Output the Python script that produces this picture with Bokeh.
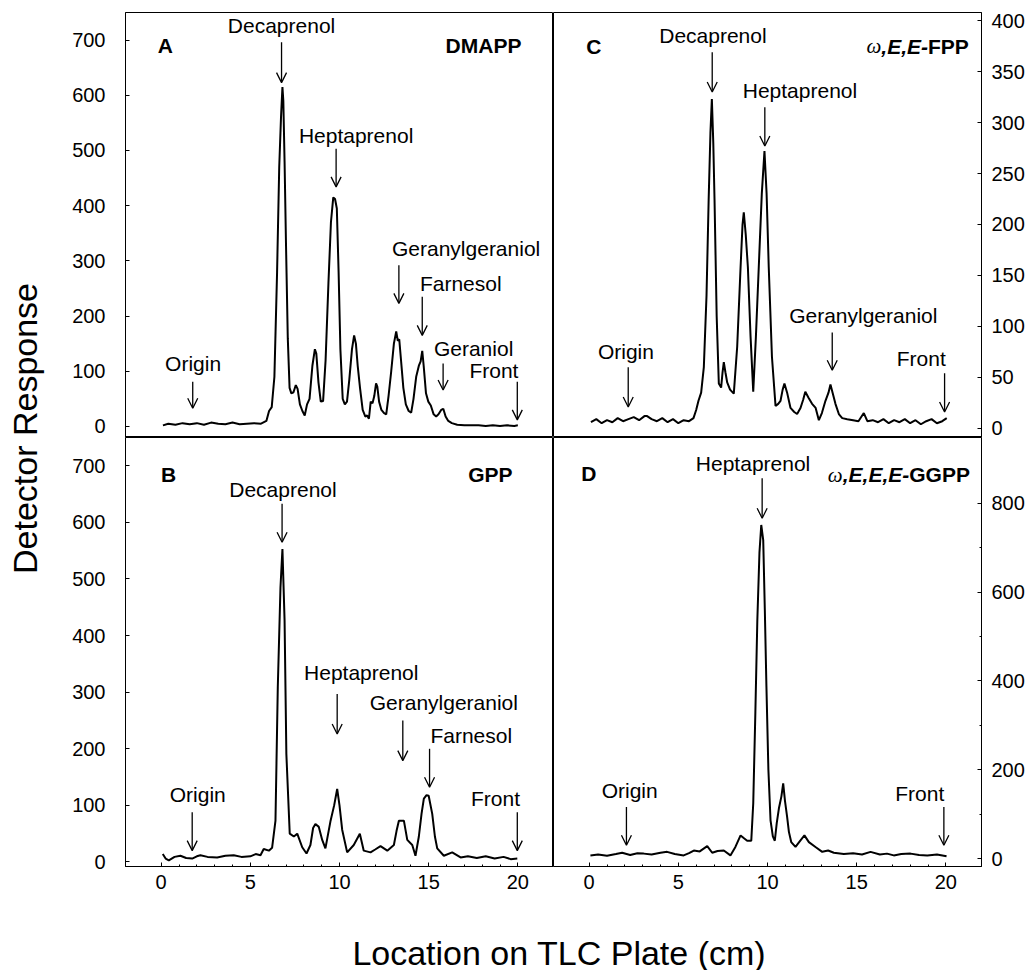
import math
from bokeh.plotting import figure
from bokeh.models import Range1d, LinearAxis, FixedTicker, Label, Arrow, OpenHead
from bokeh.layouts import row, column
from bokeh.embed import file_html
from bokeh.resources import INLINE

SANS = "Liberation Sans"
SERIF = "Liberation Serif"

# ---------------- data ----------------
x_ticks = [0, 5, 10, 15, 20]
x_minor = [i for i in range(0, 21) if i % 5]
AB_ticks = [0, 100, 200, 300, 400, 500, 600, 700]
C_ticks = [0, 50, 100, 150, 200, 250, 300, 350, 400]
D_ticks = [0, 200, 400, 600, 800]
D_minor = [100, 300, 500, 700]

# Panel A (DMAPP)
A_x = [0.1, 0.4, 0.8, 1.2, 1.6, 2.0, 2.4, 2.8, 3.2, 3.6, 4.0, 4.4, 4.8, 5.2, 5.6, 5.9, 6.05, 6.2,
       6.35, 6.5, 6.62, 6.72, 6.8, 6.85, 6.92, 7.0, 7.1, 7.2, 7.3, 7.42, 7.55, 7.65, 7.78, 7.92,
       8.05, 8.18, 8.32, 8.48, 8.62, 8.7, 8.82, 8.95, 9.08, 9.22, 9.38, 9.52, 9.65, 9.75, 9.85,
       9.95, 10.05, 10.18, 10.3, 10.42, 10.55, 10.7, 10.82, 10.92, 11.02, 11.15, 11.3, 11.45,
       11.55, 11.65, 11.75, 11.85, 11.95, 12.05, 12.12, 12.22, 12.35, 12.5, 12.62, 12.75, 12.9,
       13.05, 13.18, 13.27, 13.35, 13.45, 13.58, 13.72, 13.88, 14.02, 14.15, 14.3, 14.45, 14.55,
       14.64, 14.72, 14.85, 14.98, 15.12, 15.28, 15.42, 15.55, 15.7, 15.82, 15.95, 16.1, 16.3,
       16.6, 17.0, 17.4, 17.8, 18.2, 18.6, 19.0, 19.4, 19.8, 20.0]
A_y = [2, 5, 3, 6, 4, 6, 3, 7, 5, 4, 7, 4, 5, 6, 5, 10, 28, 35,
       90, 280, 470, 560, 615, 590, 480, 330, 160, 70, 60, 62, 75, 68, 40, 28,
       20, 40, 50, 110, 140, 132, 80, 45, 46, 120, 260, 370, 415, 412, 395,
       280, 140, 50, 40, 45, 85, 140, 165, 150, 110, 70, 30, 18,
       20, 14, 45, 42, 55, 78, 72, 45, 30, 24, 22, 55, 100,
       150, 172, 155, 158, 120, 70, 40, 28, 25, 50, 90, 110, 118,
       137, 110, 60, 45, 38, 22, 18, 22, 30, 32, 18, 10, 6,
       3, 2, 2, 2, 1, 2, 1, 2, 1, 2]

# Panel B (GPP)
B_x = [0.09, 0.25, 0.43, 0.75, 1.08, 1.4, 1.74, 2.0, 2.2, 2.6, 3.14, 3.6, 4.07, 4.5, 5.0, 5.3,
       5.57, 5.75, 6.04, 6.22, 6.41, 6.54, 6.69, 6.8, 6.92, 7.02, 7.21, 7.44, 7.63, 7.91, 8.15,
       8.37, 8.52, 8.65, 8.84, 9.03, 9.21, 9.5, 9.7, 9.87, 10.0, 10.15, 10.43, 10.8, 11.14,
       11.36, 11.74, 12.0, 12.3, 12.68, 13.05, 13.2, 13.33, 13.61, 13.8, 14.08, 14.26, 14.45,
       14.6, 14.73, 14.88, 15.0, 15.2, 15.35, 15.48, 15.85, 16.32, 16.79, 17.2, 17.7, 18.2,
       18.7, 19.2, 19.6, 19.97]
B_y = [14, 6, 3, 9, 11, 7, 6, 10, 12, 9, 8, 11, 12, 9, 10, 14,
       12, 23, 20, 25, 73, 309, 485, 553, 427, 191, 50, 45, 50, 26, 15,
       30, 60, 67, 62, 39, 24, 73, 100, 129, 100, 57, 17, 30, 50,
       20, 17, 22, 28, 20, 30, 55, 73, 73, 39, 30, 11, 45,
       85, 112, 118, 117, 85, 45, 24, 11, 17, 8, 10, 7, 10,
       6, 9, 5, 6]

# Panel C (w,E,E-FPP)
C_x = [0.1, 0.4, 0.7, 1.0, 1.3, 1.6, 1.9, 2.2, 2.5, 2.8, 3.1, 3.25, 3.5, 3.8, 4.1, 4.4, 4.7,
       5.0, 5.3, 5.6, 5.85, 6.0, 6.13, 6.28, 6.43, 6.58, 6.7, 6.8, 6.88, 6.96, 7.03, 7.15, 7.27,
       7.4, 7.48, 7.55, 7.64, 7.74, 7.9, 8.11, 8.3, 8.49, 8.6, 8.67, 8.78, 8.9, 9.05, 9.2, 9.35,
       9.51, 9.68, 9.83, 9.95, 10.07, 10.25, 10.45, 10.6, 10.73, 10.85, 10.95, 11.1, 11.29,
       11.5, 11.66, 11.85, 12.0, 12.12, 12.3, 12.5, 12.7, 12.88, 13.05, 13.25, 13.42, 13.53,
       13.65, 13.81, 14.0, 14.19, 14.47, 14.8, 15.1, 15.4, 15.6, 15.9, 16.2, 16.5, 16.8, 17.1,
       17.4, 17.7, 18.0, 18.3, 18.6, 18.9, 19.2, 19.5, 19.8, 20.05]
C_y = [6, 9, 5, 8, 6, 10, 7, 9, 11, 8, 12, 12, 9, 7, 10, 6, 9,
       5, 8, 7, 10, 18, 27, 35, 60, 130, 224, 290, 323, 280, 224, 110, 44,
       40, 55, 65, 55, 45, 38, 34, 80, 158, 200, 212, 190, 158, 90, 36, 90,
       158, 230, 272, 230, 158, 70, 22, 24, 27, 38, 44, 35, 20,
       16, 14, 20, 28, 36, 30, 24, 20, 8, 15, 27, 35, 43,
       35, 24, 14, 10, 9, 8, 7, 15, 7, 8, 6, 9, 5, 8,
       6, 9, 5, 8, 4, 7, 9, 5, 7, 10]

# Panel D (w,E,E,E-GGPP)
D_x = [0.07, 0.5, 1.0, 1.5, 1.85, 2.3, 2.7, 3.06, 3.5, 4.0, 4.37, 4.8, 5.3, 5.6, 5.87, 6.2,
       6.62, 6.9, 7.2, 7.55, 7.92, 8.2, 8.49, 8.7, 8.86, 9.09, 9.2, 9.32, 9.43, 9.55, 9.65,
       9.76, 9.85, 9.94, 10.05, 10.17, 10.3, 10.41, 10.52, 10.64, 10.78, 10.88, 10.98, 11.1,
       11.2, 11.33, 11.57, 11.85, 12.07, 12.32, 12.69, 13.07, 13.4, 13.72, 14.28, 14.8, 15.3,
       15.78, 16.3, 16.7, 17.08, 17.5, 18.02, 18.5, 18.96, 19.5, 20.04]
D_y = [7, 9, 6, 10, 13, 8, 12, 11, 9, 13, 15, 10, 7, 12, 18, 16,
       28, 13, 17, 18, 7, 26, 52, 45, 40, 40, 124, 330, 537, 690, 751,
       717, 560, 387, 200, 86, 50, 40, 80, 113, 140, 169, 130, 94,
       60, 37, 26, 41, 52, 37, 26, 15, 18, 13, 10, 12, 9,
       15, 9, 11, 7, 10, 11, 8, 7, 9, 5]

# Annotations: name, arrow x, arrow top y, arrow tip y, label x, label y
A_notes = [("Origin", 1.77, 81, 33, 1.79, 114),
           ("Decaprenol", 6.75, 696, 623, 6.75, 726),
           ("Heptaprenol", 9.81, 503, 434, 10.93, 527),
           ("Geranylgeraniol", 13.33, 292, 223, 17.1, 322),
           ("Farnesol", 14.64, 235, 165, 16.8, 259),
           ("Geraniol", 15.81, 114, 66, 17.52, 141),
           ("Front", 19.97, 81, 12, 18.66, 102)]
B_notes = [("Origin", 1.74, 88, 20, 2.05, 120),
           ("Decaprenol", 6.78, 633, 565, 6.83, 659),
           ("Heptaprenol", 9.87, 297, 226, 11.22, 335),
           ("Geranylgeraniol", 13.55, 250, 179, 15.85, 282),
           ("Farnesol", 15.05, 200, 132, 17.39, 223),
           ("Front", 19.97, 88, 20, 18.75, 112)]
C_notes = [("Origin", 2.19, 60, 21, 2.06, 75),
           ("Decaprenol", 6.9, 369, 330, 6.94, 385),
           ("Heptaprenol", 9.85, 315, 277, 11.82, 331),
           ("Geranylgeraniol", 13.63, 94, 57, 15.37, 111),
           ("Front", 19.93, 54, 16, 18.62, 68.6)]
D_notes = [("Origin", 2.09, 116, 30, 2.27, 154),
           ("Heptaprenol", 9.7, 856, 766, 9.19, 890),
           ("Front", 19.89, 116, 30, 18.54, 146)]

# Panel letter (text, x, y) and substrate tag parts (right-to-left): (text, style, font, em-width)
A_letter = ("A", 0.24, 690)
B_letter = ("B", 0.41, 684)
C_letter = ("C", 0.26, 375)
D_letter = ("D", -0.02, 868)
A_tag = (20.2, 690, [("DMAPP", "bold", SANS, 3.611)])
B_tag = (19.7, 684, [("GPP", "bold", SANS, 2.112)])
C_tag = (21.29, 375, [("FPP", "bold", SANS, 1.945), (",E,E-", "bold italic", SANS, 2.223),
                      ("\u03c9", "italic", SERIF, 0.67)])
D_tag = (21.35, 864, [("GGPP", "bold", SANS, 2.89), (",E,E,E-", "bold italic", SANS, 3.168),
                      ("\u03c9", "italic", SERIF, 0.67)])

y_title = "Detector Response"
x_title = "Location on TLC Plate (cm)"

# ---------------- styling / layout ----------------
X_RANGE = (-2, 22)
TICK_FS = "20px"
NOTE_FS = "21px"


def make_axis(ticks, minor, label_fs, standoff):
    return LinearAxis(
        ticker=FixedTicker(ticks=ticks, minor_ticks=minor),
        major_tick_in=4, major_tick_out=0, minor_tick_in=2, minor_tick_out=0,
        major_tick_line_color="black", minor_tick_line_color="black",
        axis_line_color="black", axis_line_width=1,
        major_label_text_font=SANS, major_label_text_font_size=label_fs,
        major_label_text_color="black", major_label_standoff=standoff,
    )


def build(xs, ys, yr, w, h, bl, br, bt, bb, yticks, yminor, yside, ystandoff,
          xlabels, notes, letter, tag):
    p = figure(width=w, height=h, x_range=Range1d(*X_RANGE), y_range=Range1d(*yr),
               min_border_left=bl, min_border_right=br, min_border_top=bt, min_border_bottom=bb,
               x_axis_location=None, y_axis_location=None, toolbar_location=None,
               output_backend="svg", outline_line_color="black", outline_line_width=1,
               background_fill_color="white", border_fill_color="white")
    p.grid.visible = False
    p.add_layout(make_axis(yticks, yminor, TICK_FS, ystandoff), yside)
    if xlabels:
        p.add_layout(make_axis(x_ticks, x_minor, TICK_FS, 8), "below")
    p.line(xs, ys, line_color="black", line_width=2)

    for name, ax, top, tip, lx, ly in notes:
        p.add_layout(Arrow(x_start=ax, y_start=top, x_end=ax, y_end=tip,
                           line_color="black", line_width=1.3,
                           end=OpenHead(size=10, line_color="black", line_width=1.3)))
        p.add_layout(Label(x=lx, y=ly, text=name, text_align="center", text_baseline="middle",
                           text_font=SANS, text_font_size=NOTE_FS, text_color="black"))

    t, lx, ly = letter
    p.add_layout(Label(x=lx, y=ly, text=t, text_align="center", text_baseline="middle",
                       text_font=SANS, text_font_size=NOTE_FS, text_font_style="bold",
                       text_color="black"))
    rx, ry, parts = tag
    off = 0.0
    for txt, style, font, em in parts:
        p.add_layout(Label(x=rx, y=ry, x_offset=-off, text=txt, text_align="right",
                           text_baseline="middle", text_font=font, text_font_size=NOTE_FS,
                           text_font_style=style, text_color="black"))
        off += em * 21
    return p


pA = build(A_x, A_y, (-20, 750), 485, 437, 57, 0, 12, 0, AB_ticks, [], "left", 20,
           False, A_notes, A_letter, A_tag)
pB = build(B_x, B_y, (-8, 750), 485, 463, 57, 0, 0, 34, AB_ticks, [], "left", 20,
           True, B_notes, B_letter, B_tag)
pC = build(C_x, C_y, (-9, 408), 474, 437, 0, 46, 12, 0, C_ticks, [], "right", 10,
           False, C_notes, C_letter, C_tag)
pD = build(D_x, D_y, (-18, 948), 474, 463, 0, 46, 0, 34, D_ticks, D_minor, "right", 10,
           True, D_notes, D_letter, D_tag)


def blank(w, h):
    p = figure(width=w, height=h, x_range=Range1d(0, w), y_range=Range1d(0, h),
               min_border=0, x_axis_location=None, y_axis_location=None,
               toolbar_location=None, output_backend="svg", outline_line_color=None,
               background_fill_color="white", border_fill_color="white")
    p.grid.visible = False
    return p


yt = blank(68, 900)
yt.add_layout(Label(x=24, y=472, text=y_title, angle=math.pi / 2, text_align="center",
                    text_baseline="middle", text_font=SANS, text_font_size="34px",
                    text_color="black"))
xt = blank(1027, 70)
xt.add_layout(Label(x=558.8, y=18, text=x_title, text_align="center",
                    text_baseline="middle", text_font=SANS, text_font_size="34px",
                    text_color="black"))

layout = column(row(yt, column(row(pA, pC), row(pB, pD))), xt)

open("out.html", "w").write(file_html(layout, INLINE))
